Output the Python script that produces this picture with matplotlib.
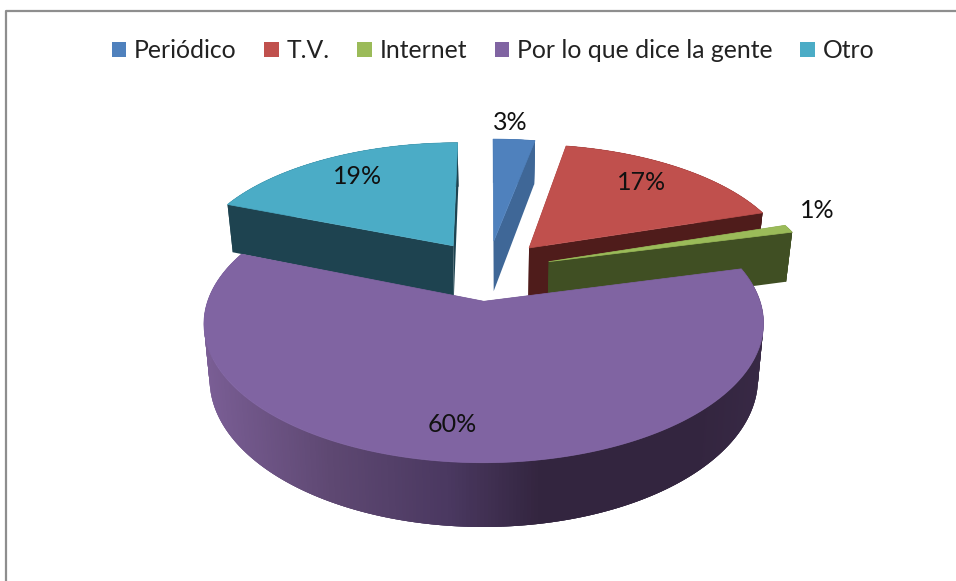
import numpy as np
import matplotlib
matplotlib.use("Agg")
import matplotlib.pyplot as plt
from matplotlib.patches import Patch, Polygon

# datos
categorias = ["Periódico", "T.V.", "Internet", "Por lo que dice la gente", "Otro"]
valores = [3, 17, 1, 60, 19]

colores = ["#4f81bd", "#c0504d", "#9bbb59", "#8064a2", "#4bacc6"]
colores_lado = ["#3f6797", "#4f1c1b", "#404f23", "#4a3860", "#1e4350"]
pos_etiquetas = [(510, 122), (642, 182), (817, 210), (452, 424), (358, 176)]

plt.rcParams["font.family"] = ["Lato", "DejaVu Sans"]

fig = plt.figure(figsize=(9.56, 5.81), dpi=100)
ax = fig.add_axes([0, 0, 1, 1])
# ejes en pixeles de la imagen
ax.set_xlim(0, 956)
ax.set_ylim(581, 0)
ax.axis("off")

# perspectiva del pastel
CX, CY = 488, 270
A, B, K = 266, 125.8, 0.154
EXPL = 0.24
GROSOR = 52


def proyectar(u, v, z=0):
    w = 1 + K * v
    return CX + A * u / w * (1 - 0.02 * z), CY - B * v / w + z * GROSOR / w


def borde(ang, centro, r=1.0):
    return centro[0] + r * np.sin(ang), centro[1] + r * np.cos(ang)


# degradado del lado morado segun x
def color_morado(x):
    xs = [204, 330, 450, 540, 700, 765]
    rs = [0x7a, 0x5e, 0x4a, 0x33, 0x33, 0x38]
    gs = [0x5e, 0x48, 0x38, 0x25, 0x25, 0x29]
    bs = [0x95, 0x72, 0x60, 0x3f, 0x3f, 0x45]
    return (np.interp(x, xs, rs) / 255, np.interp(x, xs, gs) / 255, np.interp(x, xs, bs) / 255)


total = sum(valores)
acum = np.cumsum([0] + valores) / total * 2 * np.pi
orden = [4, 0, 1, 2, 3]

for i in orden:
    t0, t1 = acum[i], acum[i + 1]
    medio = (t0 + t1) / 2
    centro = (EXPL * np.sin(medio), EXPL * np.cos(medio))
    angs = np.linspace(t0, t1, max(int((t1 - t0) * 90), 6))
    paso = angs[1] - angs[0]
    caras = []

    # caras de corte
    for t in (t0, t1):
        u, v = borde(t, centro)
        pts = [proyectar(*centro), proyectar(u, v), proyectar(u, v, 1), proyectar(*centro, 1)]
        caras.append(((centro[1] + v) / 2, pts, colores_lado[i]))

    # pared exterior, cada trozo se solapa con el siguiente para que no se vean rayas
    for a, b in zip(angs[:-1], angs[1:]):
        ua, va = borde(a, centro)
        ub, vb = borde(min(b + 2 * paso, t1), centro)
        pts = [proyectar(ua, va), proyectar(ub, vb), proyectar(ub, vb, 1), proyectar(ua, va, 1)]
        c = colores_lado[i]
        if i == 3:
            c = color_morado(proyectar(*borde((a + b) / 2, centro))[0])
        caras.append(((va + vb) / 2, pts, c))

    # el morado se pinta en orden de angulo, los demas de atras hacia delante
    if i != 3:
        caras = sorted(caras, key=lambda f: -f[0])

    for _, pts, c in caras:
        ax.add_patch(Polygon(pts, closed=True, facecolor=c, edgecolor="none", linewidth=0))

    # cara superior
    tapa = [proyectar(*centro)] + [proyectar(*borde(a, centro)) for a in angs]
    ax.add_patch(Polygon(tapa, closed=True, facecolor=colores[i], edgecolor=colores[i], linewidth=0.5))

# etiquetas
for v, (x, y) in zip(valores, pos_etiquetas):
    ax.text(x, y, f"{v}%", ha="center", va="center", fontsize=18, color="#111111")

# marco
ax.plot([6, 6, 960], [585, 11, 11], color="#8e8e8e", lw=1.6, clip_on=True)

# leyenda
handles = [Patch(facecolor=c, edgecolor="none", label=n) for c, n in zip(colores, categorias)]
ax.legend(handles=handles, ncol=5, loc="center", bbox_to_anchor=(493 / 956, 1 - 51 / 581),
          frameon=False, fontsize=17.8, handlelength=0.58, handleheight=0.58, handletextpad=0.32,
          columnspacing=1.12, labelcolor="#222222", borderpad=0)

plt.savefig("out.png", dpi=100)
